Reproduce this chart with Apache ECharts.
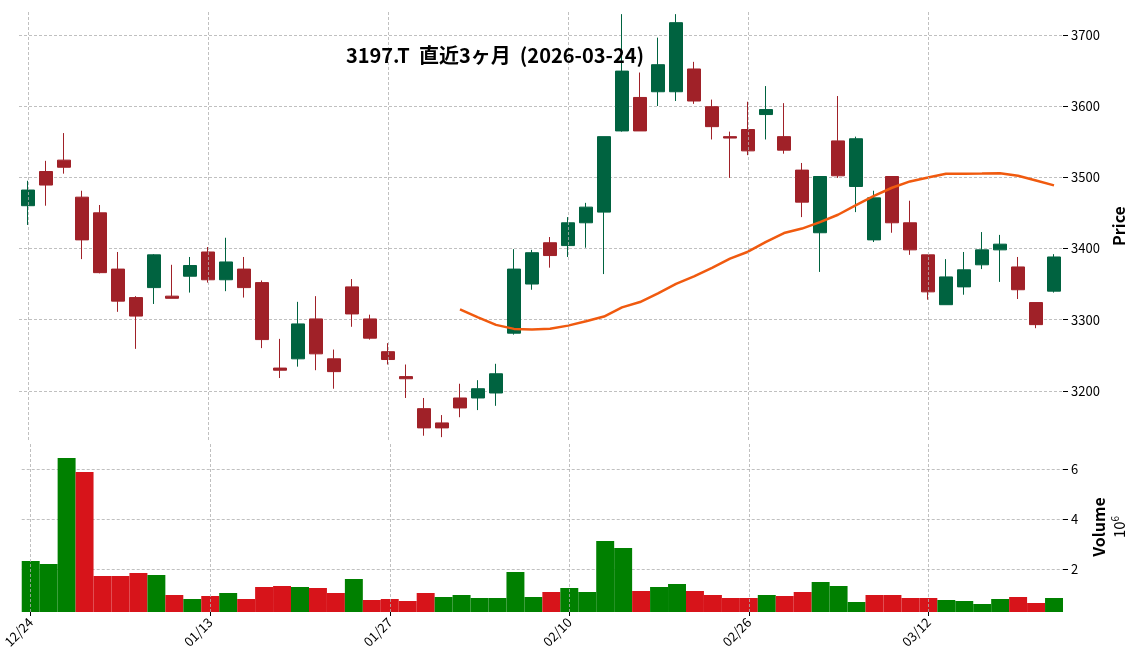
<!DOCTYPE html>
<html><head><meta charset="utf-8">
<script src="https://cdn.jsdelivr.net/npm/echarts@6/dist/echarts.min.js"></script>
<style>html,body{margin:0;padding:0;background:#fff}#c{width:1136px;height:670px}</style>
</head><body><div id="c"></div>
<script>
const dates=['12/24','12/25','12/26','12/29','12/30','01/05','01/06','01/07','01/08','01/09','01/13','01/14','01/15','01/16','01/19','01/20','01/21','01/22','01/23','01/26','01/27','01/28','01/29','01/30','02/02','02/03','02/04','02/05','02/06','02/09','02/10','02/12','02/13','02/16','02/17','02/18','02/19','02/20','02/24','02/25','02/26','02/27','03/02','03/03','03/04','03/05','03/06','03/09','03/10','03/11','03/12','03/13','03/16','03/17','03/18','03/19','03/23','03/24'];
const opens=[3460,3508,3524,3472,3450,3371,3331,3345,3333,3361,3395,3356,3371,3352,3232,3245,3301,3245,3346,3301,3255,3220,3175,3155,3190,3190,3197,3281,3350,3408,3404,3436,3451,3565,3612,3620,3620,3652,3599,3557,3567,3588,3557,3510,3422,3551,3487,3412,3501,3436,3391,3321,3346,3377,3398,3374,3324,3340];
const highs=[3495,3523,3562,3481,3461,3395,3333,3392,3377,3388,3402,3415,3388,3355,3273,3325,3333,3258,3357,3307,3267,3237,3190,3166,3210,3215,3238,3399,3398,3416,3444,3464,3557,3729,3647,3696,3729,3662,3609,3564,3606,3628,3604,3520,3501,3614,3557,3481,3501,3467,3391,3385,3395,3423,3419,3388,3324,3392];
const lows=[3433,3460,3505,3385,3365,3311,3259,3322,3330,3338,3352,3340,3331,3260,3218,3234,3229,3203,3290,3272,3237,3190,3137,3135,3163,3173,3179,3279,3342,3373,3388,3401,3364,3564,3565,3600,3607,3603,3553,3499,3531,3553,3533,3444,3367,3499,3451,3409,3422,3391,3328,3321,3335,3371,3353,3329,3288,3338];
const closes=[3482,3489,3514,3412,3366,3326,3305,3391,3330,3376,3356,3381,3345,3272,3229,3294,3252,3227,3308,3274,3244,3217,3148,3148,3176,3203,3224,3371,3394,3390,3436,3458,3557,3649,3565,3658,3717,3607,3571,3555,3537,3595,3538,3465,3501,3502,3554,3471,3436,3398,3339,3360,3370,3398,3406,3342,3293,3388];
const volumes=[2.32,2.2,6.44,5.88,1.72,1.72,1.84,1.76,0.96,0.8,0.92,1.04,0.8,1.28,1.32,1.28,1.24,1.04,1.6,0.76,0.8,0.72,1.04,0.88,0.96,0.84,0.84,1.88,0.88,1.08,1.24,1.08,3.12,2.84,1.12,1.28,1.4,1.12,0.96,0.84,0.84,0.96,0.92,1.08,1.48,1.32,0.68,0.96,0.96,0.84,0.84,0.76,0.72,0.6,0.8,0.88,0.64,0.84];
const priceTicks=[3200,3300,3400,3500,3600,3700];
const volTicks=[2,4,6];
const labelIdx=[0,10,20,30,40,50];
const maPeriod=25;

const ma=closes.map((c,i)=>{if(i<maPeriod-1)return '-';let s=0;for(let k=i-maPeriod+1;k<=i;k++)s+=closes[k];return +(s/maPeriod).toFixed(1);});
const candle=dates.map((d,i)=>[opens[i],closes[i],lows[i],highs[i]]);
const vol=volumes.map((v,i)=>({value:v,itemStyle:{color:(i===0||closes[i]>=closes[i-1])?'#008000':'#d7141a'}}));
const F='"Noto Sans CJK JP","Noto Sans",sans-serif';
const gl={lineStyle:{color:'#b0b0b0',type:[3,2],width:0.8}};
const vlines={silent:true,symbol:'none',label:{show:false},lineStyle:{color:'#b0b0b0',type:[3,2],width:0.8},data:labelIdx.map(i=>({xAxis:dates[i]}))};
const chart=echarts.init(document.getElementById('c'));
chart.setOption({
 animation:false,
 title:{text:'3197.T  直近3ヶ月  (2026-03-24)',left:490,top:40,textAlign:'center',textStyle:{fontFamily:F,fontWeight:'bold',fontSize:20,color:'#000'}},
 grid:[{left:19,right:73,top:12,height:428},{left:19,right:73,top:442,height:170}],
 xAxis:[
  {type:'category',gridIndex:0,data:dates,boundaryGap:true,axisLine:{show:false},axisTick:{show:false},axisLabel:{show:false},splitLine:{show:false}},
  {type:'category',gridIndex:1,data:dates,boundaryGap:true,axisLine:{show:false},
   axisTick:{show:true,alignWithLabel:true,interval:(i)=>labelIdx.includes(i),length:4,lineStyle:{color:'#000'}},
   axisLabel:{interval:(i)=>labelIdx.includes(i),rotate:45,fontFamily:F,fontSize:13,color:'#000',margin:8},
   splitLine:{show:false}}
 ],
 yAxis:[
  {type:'value',gridIndex:0,position:'right',min:3131,max:3732,
   axisLine:{show:false},axisTick:{show:true,customValues:priceTicks,length:5,lineStyle:{color:'#000'}},
   axisLabel:{customValues:priceTicks,formatter:v=>String(v),fontFamily:F,fontSize:13,color:'#000',margin:8},
   splitLine:{show:true,...gl},
   name:'Price',nameLocation:'middle',nameRotate:90,nameGap:45,nameTextStyle:{fontFamily:F,fontSize:16,fontWeight:'bold',color:'#000'}},
  {type:'value',gridIndex:1,position:'right',min:0.28,max:7.08,
   axisLine:{show:false},axisTick:{show:true,customValues:volTicks,length:5,lineStyle:{color:'#000'}},
   axisLabel:{customValues:volTicks,formatter:v=>String(v),fontFamily:F,fontSize:13,color:'#000',margin:8},
   splitLine:{show:true,...gl},
   name:'{a|Volume}\n{b|10}{c|6}',nameLocation:'middle',nameRotate:90,nameGap:25,
   nameTextStyle:{rich:{a:{fontFamily:F,fontSize:16,fontWeight:'bold',color:'#000',lineHeight:22},b:{fontFamily:F,fontSize:15,color:'#000'},c:{fontFamily:F,fontSize:10,color:'#000',verticalAlign:'top',padding:[0,0,8,0]}}}}
 ],
 series:[
  {type:'candlestick',xAxisIndex:0,yAxisIndex:0,data:candle,barWidth:'70%',
   itemStyle:{color:'#006340',color0:'#a02128',borderColor:'#006340',borderColor0:'#a02128',borderWidth:1},markLine:vlines},
  {type:'line',xAxisIndex:0,yAxisIndex:0,data:ma,showSymbol:false,smooth:false,lineStyle:{color:'#f05a0f',width:2.5}},
  {type:'bar',xAxisIndex:1,yAxisIndex:1,data:vol,barWidth:'100%',barGap:0,markLine:vlines}
 ]
});
</script></body></html>
